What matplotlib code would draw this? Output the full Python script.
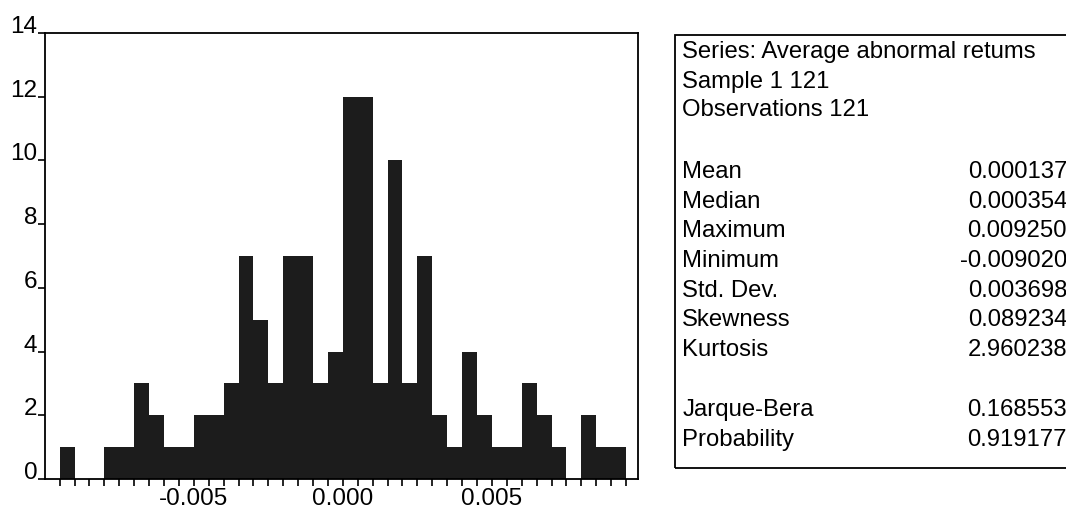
import matplotlib.pyplot as plt
import numpy as np
from matplotlib.patches import Rectangle

plt.rcParams['font.family'] = ['Liberation Sans', 'DejaVu Sans']

# histogram: bins of width 0.0005 from -0.0095 to 0.0095
bin_start = -0.0095
bin_width = 0.0005
counts = [1, 0, 0, 1, 1, 3, 2, 1, 1, 2, 2, 3, 7, 5, 3, 7, 7, 3, 4,
          12, 12, 3, 10, 3, 7, 2, 1, 4, 2, 1, 1, 3, 2, 1, 0, 2, 1, 1]

stat_header = ["Series: Average abnormal retums", "Sample 1 121", "Observations 121"]
stat_names = ["Mean", "Median", "Maximum", "Minimum", "Std. Dev.", "Skewness", "Kurtosis"]
stat_values = ["0.000137", "0.000354", "0.009250", "-0.009020", "0.003698", "0.089234", "2.960238"]
test_names = ["Jarque-Bera", "Probability"]
test_values = ["0.168553", "0.919177"]

edges = bin_start + bin_width * np.arange(len(counts) + 1)

fig = plt.figure(figsize=(10.66, 5.12), dpi=100)
ax = fig.add_axes([0.042, 0.0645, 0.5565, 0.871])
ax.stairs(counts, edges, fill=True, color="#1c1c1c")

ax.set_xlim(-0.0100, 0.0099)
ax.set_ylim(0, 14)
ax.set_yticks(range(0, 15, 2))
ax.set_xticks([-0.005, 0.0, 0.005])
ax.set_xticklabels(["-0.005", "0.000", "0.005"])
ax.set_xticks(edges, minor=True)
ax.tick_params(axis="both", labelsize=17.5, direction="out", length=5, width=1.2)
ax.tick_params(axis="x", which="minor", length=5, width=1.2)
ax.tick_params(axis="y", pad=0.5)
ax.tick_params(axis="x", pad=1.5)
for lab in ax.get_yticklabels():
    lab.set_va("baseline")
for s in ax.spines.values():
    s.set_linewidth(1.3)

# statistics box
fig.patches.append(Rectangle((0.633, 0.086), 0.5, 0.8457, transform=fig.transFigure,
                             fill=False, edgecolor="black", linewidth=1.3))
fs = 17.2
x_left = 0.64
x_right = 1.001
y_px = [52, 82, 110]
for txt, y in zip(stat_header, y_px):
    fig.text(x_left, 1 - y / 512, txt, fontsize=fs, va="center", ha="left")
for i, (n, v) in enumerate(zip(stat_names, stat_values)):
    y = 1 - (172 + 29.7 * i) / 512
    fig.text(x_left, y, n, fontsize=fs, va="center", ha="left")
    fig.text(x_right, y, v, fontsize=fs, va="center", ha="right")
for i, (n, v) in enumerate(zip(test_names, test_values)):
    y = 1 - (410 + 30 * i) / 512
    fig.text(x_left, y, n, fontsize=fs, va="center", ha="left")
    fig.text(x_right, y, v, fontsize=fs, va="center", ha="right")

fig.savefig("out.png", dpi=100)
